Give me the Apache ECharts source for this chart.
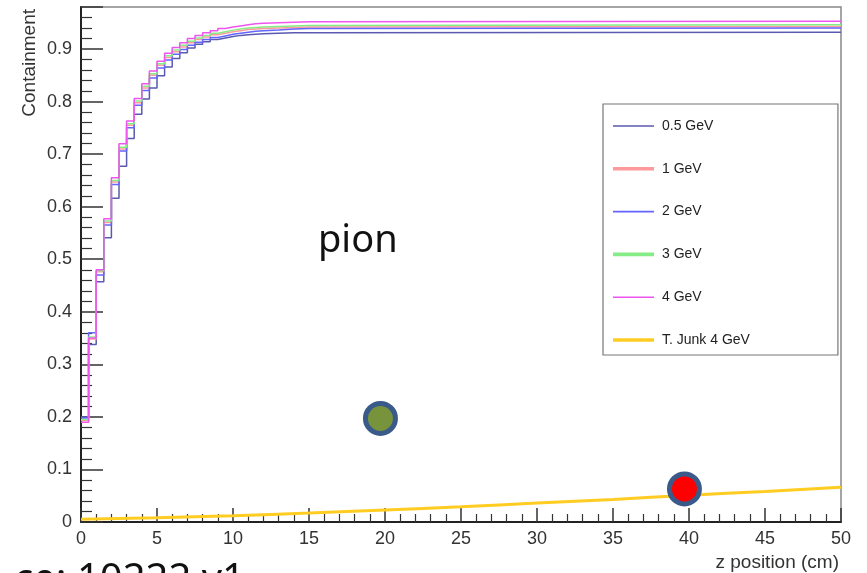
<!DOCTYPE html>
<html>
<head>
<meta charset="utf-8">
<script src="https://cdn.jsdelivr.net/npm/echarts@6/dist/echarts.min.js"></script>
<style>
  html, body { margin: 0; padding: 0; background: #fff; }
  #chart { width: 867px; height: 573px; }
</style>
</head>
<body>
<div id="chart"></div>
<script>
// 数据：z 位置（cm）的直方图左边界
const zEdges = [0, 0.5, 1, 1.5, 2, 2.5, 3, 3.5, 4, 4.5, 5, 5.5, 6, 6.5, 7, 7.5, 8, 8.5, 9, 9.5, 10, 10.5, 11, 11.5, 12, 13, 14, 15, 50]

// 各能量的 containment
const contain05 = [0.200, 0.338, 0.457, 0.541, 0.616, 0.677, 0.730, 0.776, 0.805, 0.826, 0.849, 0.866, 0.882, 0.893, 0.902, 0.909, 0.914, 0.918, 0.921, 0.924, 0.926, 0.927, 0.928, 0.929, 0.930, 0.931, 0.931, 0.932, 0.932]
const contain1 = [0.193, 0.348, 0.476, 0.570, 0.647, 0.710, 0.755, 0.798, 0.826, 0.850, 0.869, 0.884, 0.895, 0.904, 0.912, 0.918, 0.923, 0.927, 0.930, 0.933, 0.935, 0.937, 0.938, 0.939, 0.940, 0.941, 0.942, 0.943, 0.943]
const contain2 = [0.198, 0.360, 0.470, 0.565, 0.642, 0.706, 0.750, 0.793, 0.821, 0.845, 0.864, 0.879, 0.890, 0.899, 0.907, 0.913, 0.918, 0.922, 0.925, 0.928, 0.930, 0.932, 0.934, 0.935, 0.936, 0.938, 0.939, 0.940, 0.940]
const contain3 = [0.195, 0.352, 0.478, 0.573, 0.650, 0.713, 0.758, 0.801, 0.829, 0.853, 0.872, 0.887, 0.898, 0.907, 0.915, 0.921, 0.926, 0.930, 0.933, 0.936, 0.938, 0.940, 0.941, 0.942, 0.943, 0.944, 0.945, 0.946, 0.946]
const contain4 = [0.190, 0.350, 0.480, 0.577, 0.655, 0.720, 0.763, 0.806, 0.834, 0.858, 0.877, 0.892, 0.903, 0.912, 0.920, 0.926, 0.931, 0.935, 0.939, 0.942, 0.944, 0.946, 0.948, 0.949, 0.950, 0.951, 0.952, 0.953, 0.953]

// T. Junk 4 GeV
const junkZ = [0, 5, 10, 15, 20, 25, 30, 35, 40, 45, 50]
const junk4 = [0.005, 0.008, 0.012, 0.017, 0.023, 0.029, 0.036, 0.043, 0.051, 0.058, 0.066]

// 两个圆点
const dotZ = [19.7, 39.7]
const dotVal = [0.197, 0.063]

const seriesNames = ['0.5 GeV', '1 GeV', '2 GeV', '3 GeV', '4 GeV', 'T. Junk 4 GeV']

const font = 'Liberation Sans, Arial, sans-serif'
const thinIcon = 'path://M0,0H41V1.6H0Z'
const thickIcon = 'path://M0,0H41V3.6H0Z'

const chart = echarts.init(document.getElementById('chart'))

const stepSeries = (name, values, color, width) => ({
  name: name,
  type: 'line',
  step: 'end',
  symbol: 'none',
  data: zEdges.map((z, i) => [z, values[i]]),
  lineStyle: { color: color, width: width },
  itemStyle: { color: color }
})

const option = {
  animation: false,
  grid: {
    left: 81, right: 26, top: 7, bottom: 51,
    show: true, borderColor: '#888', borderWidth: 1.5
  },
  xAxis: {
    type: 'value',
    min: 0, max: 50, interval: 5,
    axisLine: { lineStyle: { color: '#222', width: 2 } },
    axisTick: { inside: true, length: 14, lineStyle: { color: '#333', width: 1.5 } },
    minorTick: { show: true, splitNumber: 5, length: 8, lineStyle: { color: '#333', width: 1.2 } },
    axisLabel: { fontSize: 18, color: '#333', margin: 8, fontFamily: font },
    splitLine: { show: false }
  },
  yAxis: {
    type: 'value',
    min: 0, max: 0.98, interval: 0.1,
    axisLine: { show: true, lineStyle: { color: '#222', width: 2 } },
    axisTick: { inside: true, length: 22, lineStyle: { color: '#333', width: 1.5 } },
    minorTick: { show: true, splitNumber: 5, length: 11, lineStyle: { color: '#333', width: 1.2 } },
    axisLabel: {
      fontSize: 18, color: '#333', margin: 9, fontFamily: font,
      showMaxLabel: false,
      formatter: v => (v === 0 ? '0' : v.toFixed(1))
    },
    splitLine: { show: false }
  },
  legend: {
    orient: 'vertical',
    left: 603, top: 104,
    itemWidth: 41, itemHeight: 14, itemGap: 28.8,
    padding: [15, 88, 8, 10],
    borderColor: '#777', borderWidth: 1.2,
    backgroundColor: '#fff',
    textStyle: { fontSize: 14, color: '#222', fontFamily: font, padding: [0, 0, 0, 3] },
    data: [
      { name: seriesNames[0], icon: thinIcon },
      { name: seriesNames[1], icon: thickIcon },
      { name: seriesNames[2], icon: thinIcon },
      { name: seriesNames[3], icon: thickIcon },
      { name: seriesNames[4], icon: thinIcon },
      { name: seriesNames[5], icon: thickIcon }
    ]
  },
  graphic: [
    { type: 'text', left: 318, top: 222, style: { text: 'pion', fontSize: 38, fill: '#111', fontFamily: 'Noto Sans, sans-serif' } },
    { type: 'text', x: 30, y: 9, rotation: Math.PI / 2, style: { text: 'Containment', fontSize: 19, fill: '#333', fontFamily: font, align: 'right', verticalAlign: 'middle' } },
    { type: 'text', right: 28, top: 553, style: { text: 'z position (cm)', fontSize: 19, fill: '#333', fontFamily: font } },
    { type: 'text', left: 14, top: 561, style: { text: 'ce: 10222 v1', fontSize: 40, fill: '#111', fontFamily: 'Noto Sans, sans-serif' } }
  ],
  series: [
    stepSeries(seriesNames[0], contain05, '#5a5ab0', 1.5),
    stepSeries(seriesNames[1], contain1, '#ff9a9a', 1.5),
    stepSeries(seriesNames[2], contain2, '#6464ff', 1.5),
    stepSeries(seriesNames[3], contain3, '#86ec86', 1.5),
    stepSeries(seriesNames[4], contain4, '#ee55ee', 1.5),
    {
      name: seriesNames[5],
      type: 'line',
      smooth: true,
      symbol: 'none',
      data: junkZ.map((z, i) => [z, junk4[i]]),
      lineStyle: { color: '#ffcc22', width: 3 },
      itemStyle: { color: '#ffcc22' }
    },
    {
      type: 'scatter',
      symbolSize: 30,
      z: 5,
      data: [
        { value: [dotZ[0], dotVal[0]], itemStyle: { color: '#77933c' } },
        { value: [dotZ[1], dotVal[1]], itemStyle: { color: '#ff0000' } }
      ],
      itemStyle: { borderColor: '#3a5a8a', borderWidth: 5, opacity: 1 }
    }
  ]
}

chart.setOption(option)
</script>
</body>
</html>
